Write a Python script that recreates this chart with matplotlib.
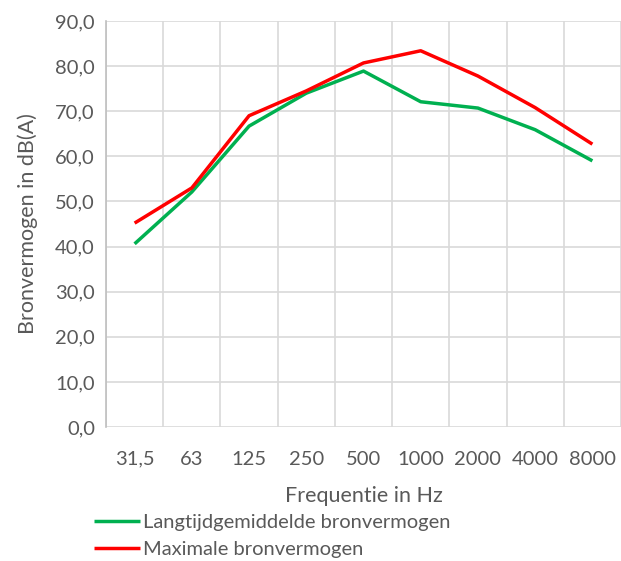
import numpy as np
import matplotlib.pyplot as plt

# frequency bands and sound power levels
frequencies = ["31,5", "63", "125", "250", "500", "1000", "2000", "4000", "8000"]
langtijd = [40.6, 52.1, 66.7, 74.0, 78.9, 72.1, 70.7, 65.9, 59.0]
maximaal = [45.2, 53.0, 69.0, 74.5, 80.7, 83.4, 77.8, 70.8, 62.7]
y_ticks = [0, 10, 20, 30, 40, 50, 60, 70, 80, 90]

plt.rcParams['font.family'] = ['Lato', 'DejaVu Sans']
text_color = '#595959'
grid_color = '#D9D9D9'

fig = plt.figure(figsize=(6.21, 5.61), dpi=100)
ax = fig.add_axes([106 / 621, 1 - 427 / 561, (621 - 106) / 621, (427 - 21) / 561])

x = np.arange(len(frequencies))
ax.plot(x, langtijd, color='#00B050', linewidth=2.5, solid_capstyle='butt',
        label='Langtijdgemiddelde bronvermogen')
ax.plot(x, maximaal, color='#FF0000', linewidth=2.5, solid_capstyle='butt',
        label='Maximale bronvermogen')

ax.set_xlim(-0.5, len(frequencies) - 0.5)
ax.set_ylim(0, 90)
ax.set_yticks(y_ticks)
ax.set_yticklabels([f"{v:.1f}".replace('.', ',') for v in y_ticks])
ax.set_xticks(x)
ax.set_xticklabels(frequencies)
ax.set_xticks(np.arange(-0.5, len(frequencies) + 0.5), minor=True)

ax.grid(True, which='major', axis='y', color=grid_color, linewidth=1.2)
ax.grid(True, which='minor', axis='x', color=grid_color, linewidth=1.2)
ax.set_axisbelow(True)

for side in ['top', 'right', 'bottom']:
    ax.spines[side].set_visible(False)
ax.spines['left'].set_color('#BFBFBF')
ax.spines['left'].set_linewidth(1.2)

ax.tick_params(axis='both', which='both', length=0, labelsize=14.5, colors=text_color)
ax.tick_params(axis='x', pad=17)
ax.tick_params(axis='y', pad=8)

ax.set_xlabel("Frequentie in Hz", fontsize=15.5, color=text_color, labelpad=13)
ax.set_ylabel("Bronvermogen in dB(A)", fontsize=15.5, color=text_color, labelpad=12)

fig.legend(loc='upper left', bbox_to_anchor=(94 / 621, 1 - 514 / 561),
           frameon=False, fontsize=14.5, labelcolor=text_color,
           handlelength=2.3, handletextpad=0.15, labelspacing=0.5,
           borderaxespad=0, borderpad=0)

fig.savefig("out.png", dpi=100)
